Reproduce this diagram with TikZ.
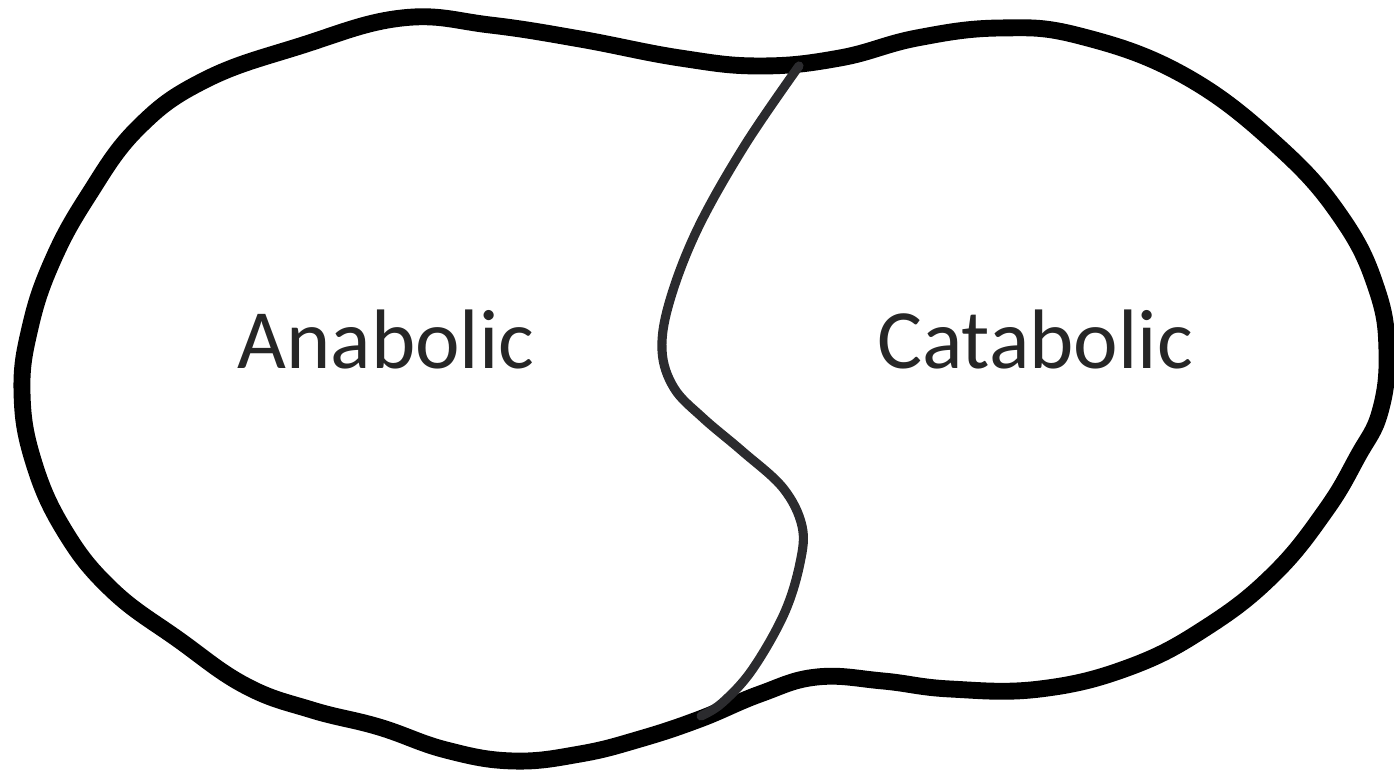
\documentclass[tikz,border=0pt]{standalone}
\usepackage{fontspec}
\setmainfont{Carlito}
\usetikzlibrary{positioning}

\definecolor{inkgray}{HTML}{2B2B2E}
\definecolor{textgray}{HTML}{262626}

\begin{document}
\begin{tikzpicture}[
    x=0.01cm,
    y=-0.01cm,
    outline/.style={
        draw=black,
        line width=4.8pt,
        line join=round
    },
    divider/.style={
        draw=inkgray,
        line width=2.6pt,
        line cap=round
    },
    label/.style={
        text=textgray,
        font=\fontsize{24}{28}\selectfont,
        inner sep=0pt
    }
]

    % Page frame
    \useasboundingbox (0,0) rectangle (1394,774);

    % Cell outline
    \draw [outline] plot [smooth cycle, tension=0.7] coordinates {
        (300,46) (402,18) (490,25) (580,39) (680,58) (760,66) (840,58)
        (917,38) (1000,28) (1080,36) (1185,76) (1280,148) (1343,220)
        (1377,290) (1387,352) (1380,412) (1358,456) (1326,510) (1274,574)
        (1207,627) (1130,667) (1040,689) (950,689) (883,681) (817,677)
        (760,694) (700,719) (640,739) (580,754) (513,761) (446,750)
        (379,727) (312,710) (246,686) (179,640) (112,590) (64,530)
        (33,460) (22,392) (30,328) (52,262) (88,196) (138,128) (205,80)
    };

    % Ends of the dividing line
    \coordinate (top) at (799,66);
    \coordinate (bot) at (701,716);

    % Dividing line
    \draw [divider] plot [smooth, tension=0.6] coordinates {
        (top) (745,145) (698,228) (670,300) (662,350) (674,388)
        (703,418) (742,451) (783,488) (802,526) (800,563) (784,614)
        (752,670) (722,703) (bot)
    };

    % Labels
    \node [label] (ana) at (386,340) {Anabolic};
    \node [label] (cata) at (1035,340) {Catabolic};

\end{tikzpicture}
\end{document}
